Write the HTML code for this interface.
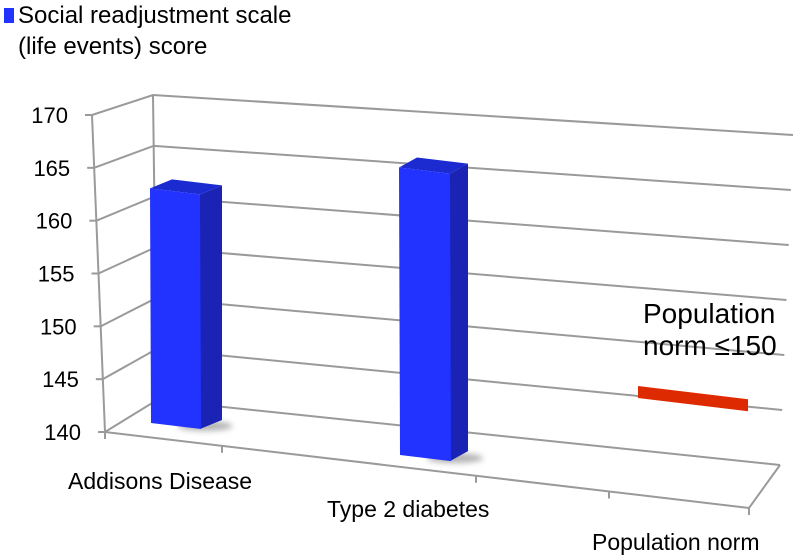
<!DOCTYPE html>
<html><head><meta charset="utf-8">
<style>
body{margin:0;background:#fff;}
svg{display:block;font-family:"Liberation Sans",Arial,sans-serif;}
</style></head>
<body>
<svg id="chart" width="800" height="559" viewBox="0 0 800 559" xmlns="http://www.w3.org/2000/svg">
<defs><filter id="blur" x="-50%" y="-50%" width="200%" height="200%"><feGaussianBlur stdDeviation="3"/></filter></defs>
<rect x="4" y="8" width="10" height="15" fill="#2233ff"/>
<text x="18" y="23" font-size="24" fill="#000">Social readjustment scale</text>
<text x="18" y="54" font-size="24" fill="#000">(life events) score</text>
<g id="grid"></g>
<g id="bars"></g>
<text x="643" y="323" font-size="28" fill="#000">Population</text>
<text x="643" y="355" font-size="28" fill="#000">norm ≤150</text>
</svg>
<script>
const categories = ["Addisons Disease", "Type 2 diabetes", "Population norm"];
const values = [163, 165, 150];
const ticks = [140, 145, 150, 155, 160, 165, 170];
const yMin = 140, yMax = 170;

const NS = "http://www.w3.org/2000/svg";
const grid = document.getElementById("grid");
const barsG = document.getElementById("bars");
function mk(tag, attrs, parent){const e=document.createElementNS(NS,tag);for(const k in attrs)e.setAttribute(k,attrs[k]);parent.appendChild(e);return e;}
function t(v){return (yMax - v)/(yMax - yMin);}
function frontAxis(v){return [92+t(v)*13, 115+t(v)*317];}
function backLeft(v){return [153+t(v)*4, 95+t(v)*305];}
function backRight(v){return [793-t(v)*13, 135+t(v)*330];}
const gc = "#9a9a9a";

ticks.forEach(v=>{
  const f=frontAxis(v), b=backLeft(v), r=backRight(v);
  let l=mk("polyline",{points:`${f[0]},${f[1]} ${b[0]},${b[1]} ${r[0]},${r[1]}`,fill:"none",stroke:gc,"stroke-width":2},grid);
  
  
  let tk=mk("line",{x1:f[0]-7,y1:f[1],x2:f[0],y2:f[1],stroke:gc,"stroke-width":2},grid);
  
  
  let tx=mk("text",{x:f[0]-24,y:f[1]+8,"font-size":22,"text-anchor":"end",fill:"#000"},grid);
  tx.textContent=v;
  
  
});
{
  const a=frontAxis(yMax), b=frontAxis(yMin), c=backLeft(yMax), d=backLeft(yMin);
  let ax=mk("line",{x1:a[0],y1:a[1],x2:b[0],y2:b[1],stroke:gc,"stroke-width":2},grid);
  
  
  let bk=mk("line",{x1:c[0],y1:c[1],x2:d[0],y2:d[1],stroke:gc,"stroke-width":2},grid);
  
  
  const r=backRight(yMin);
  let fl=mk("polyline",{points:`${b[0]},${b[1]} 749,508 ${r[0]},${r[1]}`,fill:"none",stroke:gc,"stroke-width":2},grid);
  
  
  [105,222,476,609,749].forEach((x,i)=>{
    const y=432+(x-105)*(76/644);
    let k=mk("line",{x1:x,y1:y,x2:x,y2:y+7,stroke:gc,"stroke-width":2},grid);
    
    
  });
}
const labelPos=[[68,489],[327,517],[592,550]];
categories.forEach((c,i)=>{
  let tx=mk("text",{x:labelPos[i][0],y:labelPos[i][1],"font-size":23,fill:"#000"},grid);
  tx.textContent=c;
  
  
});
const barX=[150,399,638], barW=[50,51,110], baseY=[423,455,507], pxPer=[10.2,11.5,11.5], depthDx=[22,18,0], depthDy=[-9,-10,0];
values.forEach((v,i)=>{
  const x0=barX[i], w=barW[i], x1=x0+w, sl=0.12;
  const yb0=baseY[i], yb1=yb0+w*sl;
  const h=(v-yMin)*pxPer[i];
  const yt0=yb0-h, yt1=yb1-h;
  const dx=depthDx[i], dy=depthDy[i];
  if(i<2){
    let sh=mk("ellipse",{cx:x1+5,cy:yb1-3,rx:w*0.55,ry:5,fill:"#777",opacity:0.55,filter:"url(#blur)"},barsG);
    
    
    let side=mk("polygon",{points:`${x1},${yt1} ${x1+dx},${yt1+dy} ${x1+dx},${yb1+dy} ${x1},${yb1}`,fill:"#1a23b3"},barsG);
    
    
    let top=mk("polygon",{points:`${x0},${yt0} ${x1},${yt1} ${x1+dx},${yt1+dy} ${x0+dx},${yt0+dy}`,fill:"#1c2bd0"},barsG);
    
    
    let fr=mk("polygon",{points:`${x0},${yt0} ${x1},${yt1} ${x1+1},${yb1} ${x0+1},${yb0}`,fill:"#2233ff"},barsG);
    
    
  } else {
    let red=mk("polygon",{points:`${x0},${yt0-6} ${x1},${yt1-6} ${x1},${yt1+6} ${x0},${yt0+6}`,fill:"#dd2a00"},barsG);
    
    
  }
});
</script>
</body></html>
